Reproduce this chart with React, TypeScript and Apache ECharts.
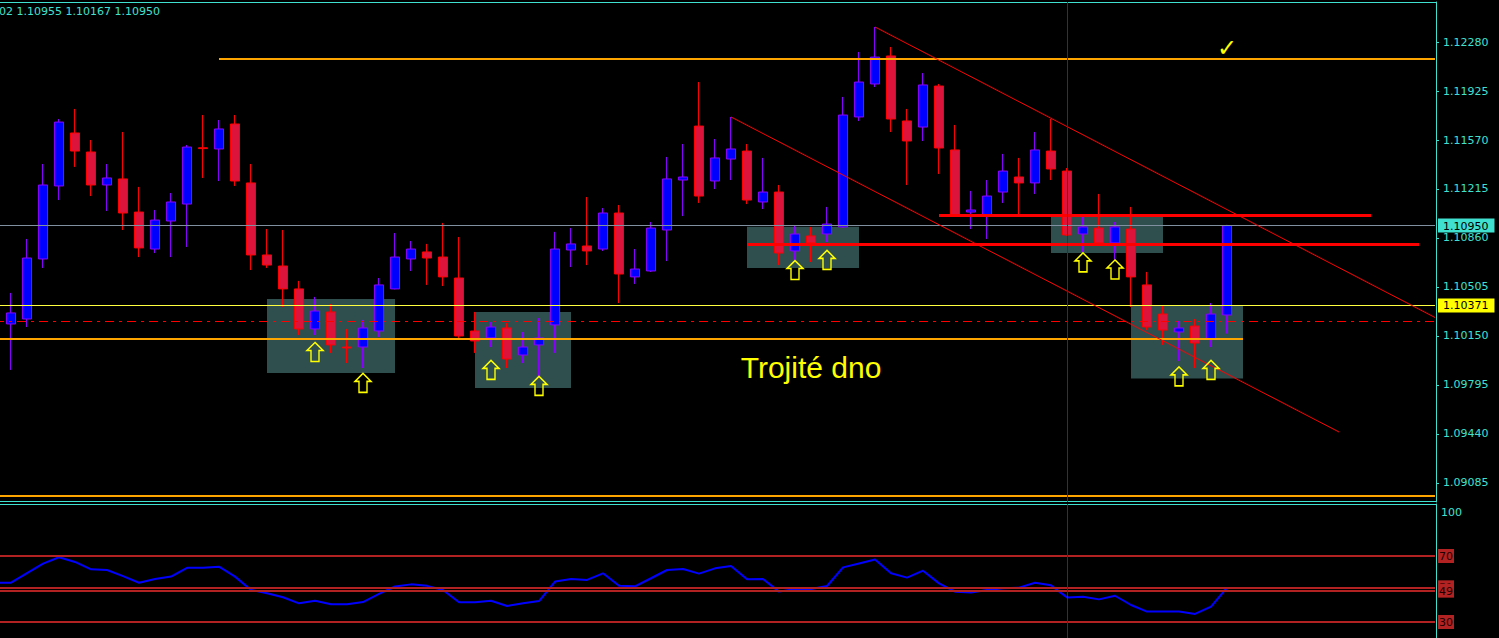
import React, { useEffect, useRef } from "react";
import * as echarts from "echarts";

// ---- candle data (index 0 is the cut-off bar at the left edge) ----
const opens = [
  1.10309, 1.10237, 1.10273, 1.10708, 1.11237, 1.11621, 1.11483, 1.11244, 1.11288, 1.11048,
  1.1078, 1.10983, 1.11106, 1.11514, 1.11505, 1.11686, 1.11259, 1.10737, 1.10657, 1.10491,
  1.10201, 1.10324, 1.1007, 1.1007, 1.10186, 1.10491, 1.10708, 1.10759, 1.10722, 1.1057,
  1.10186, 1.10136, 1.10208, 1.10012, 1.10085, 1.1023, 1.10773, 1.10802, 1.1078, 1.11041,
  1.10578, 1.10621, 1.10918, 1.1128, 1.11671, 1.11273, 1.11432, 1.1149, 1.11121, 1.11193,
  1.10766, 1.10875, 1.10889, 1.1094, 1.11737, 1.11976, 1.12179, 1.11708, 1.11664, 1.11961,
  1.11498, 1.11048, 1.11027, 1.11193, 1.11302, 1.11259, 1.1149, 1.11345, 1.10889, 1.10932,
  1.10824, 1.10925, 1.1052, 1.10309, 1.10179, 1.10222, 1.10128, 1.10302,
];
const closes = [
  1.10259, 1.10317, 1.10715, 1.11244, 1.117, 1.1149, 1.11244, 1.11295, 1.11041, 1.10788,
  1.1099, 1.11121, 1.11519, 1.11508, 1.1165, 1.11273, 1.10737, 1.10664, 1.10491, 1.10201,
  1.10331, 1.10085, 1.10063, 1.10208, 1.1052, 1.10722, 1.1078, 1.10715, 1.10578, 1.1015,
  1.10114, 1.10215, 1.09983, 1.1007, 1.10136, 1.1078, 1.10817, 1.10766, 1.11041, 1.10599,
  1.10635, 1.10932, 1.11288, 1.11302, 1.11164, 1.1144, 1.11505, 1.11135, 1.11193, 1.10751,
  1.10889, 1.10824, 1.10961, 1.11751, 1.1199, 1.12171, 1.11722, 1.11563, 1.11969, 1.11512,
  1.11027, 1.11063, 1.11164, 1.11345, 1.11259, 1.11498, 1.1136, 1.10882, 1.1094, 1.10824,
  1.1094, 1.10578, 1.10215, 1.10193, 1.10208, 1.10099, 1.10309, 1.1095,
];
const lows = [
  1.1023, 1.09904, 1.10215, 1.10643, 1.11135, 1.11375, 1.11164, 1.11056, 1.10918, 1.10722,
  1.10751, 1.10722, 1.10795, 1.11295, 1.11273, 1.11237, 1.10628, 1.10643, 1.1036, 1.10157,
  1.10157, 1.10027, 1.09954, 1.09918, 1.10143, 1.10488, 1.10621, 1.1052, 1.10512, 1.10136,
  1.10027, 1.1007, 1.09918, 1.09954, 1.09853, 1.10027, 1.1065, 1.10664, 1.10766, 1.10389,
  1.10527, 1.10614, 1.10693, 1.11019, 1.11114, 1.11215, 1.1128, 1.11106, 1.1107, 1.10664,
  1.10686, 1.10686, 1.10831, 1.10935, 1.11708, 1.11954, 1.11628, 1.11244, 1.11563, 1.11324,
  1.1102, 1.10925, 1.10853, 1.11114, 1.11027, 1.11179, 1.1128, 1.10875, 1.10759, 1.10817,
  1.10701, 1.1036, 1.10193, 1.10085, 1.09969, 1.09918, 1.1007, 1.10167,
];
const highs = [
  1.1033, 1.10462, 1.10853, 1.11396, 1.11722, 1.11795, 1.1157, 1.11396, 1.11628, 1.1123,
  1.11063, 1.11186, 1.11534, 1.11751, 1.11715, 1.11751, 1.11396, 1.10925, 1.10918, 1.10549,
  1.10433, 1.10382, 1.10201, 1.10266, 1.1057, 1.10896, 1.10838, 1.10817, 1.10969, 1.10867,
  1.10324, 1.10251, 1.10244, 1.10179, 1.1028, 1.10904, 1.10932, 1.11157, 1.11077, 1.11099,
  1.1078, 1.10976, 1.11447, 1.11541, 1.1199, 1.11577, 1.11737, 1.11541, 1.1144, 1.11244,
  1.10954, 1.1094, 1.11085, 1.11882, 1.12208, 1.12389, 1.12244, 1.11795, 1.12055, 1.11976,
  1.11679, 1.11201, 1.1128, 1.11469, 1.1144, 1.11628, 1.11722, 1.11367, 1.11012, 1.11179,
  1.10976, 1.11085, 1.10614, 1.10367, 1.10259, 1.10273, 1.10389, 1.10955,
];

// ---- oscillator (lower pane) ----
const rsiValues = [
  53.8, 53.8, 59.6, 65.4, 69.2, 66.4, 61.9, 61.5, 57.8, 53.8,
  56.1, 57.5, 62.8, 62.9, 63.5, 57.5, 49.4, 47.4, 45.0, 41.3,
  42.9, 40.7, 40.7, 42.1, 47.0, 51.5, 52.8, 51.9, 49.4, 42.0,
  42.0, 42.9, 39.7, 41.3, 42.7, 54.5, 56.1, 55.5, 59.5, 52.0,
  51.6, 56.5, 61.5, 62.1, 59.3, 62.5, 63.9, 55.9, 56.1, 48.4,
  50.0, 50.0, 51.8, 63.1, 65.5, 67.9, 59.5, 56.9, 61.1, 53.4,
  48.4, 47.8, 49.4, 50.4, 50.8, 53.8, 52.2, 44.9, 45.3, 43.7,
  45.9, 40.3, 36.3, 36.3, 36.3, 34.9, 39.3, 50.8,
];
const rsiLevels = [70, 51, 49, 30];
const rsiTopLabel = 100;

// ---- axis ticks ----
const priceTicks = [1.09085, 1.0944, 1.09795, 1.1015, 1.10505, 1.1086, 1.11215, 1.1157, 1.11925, 1.1228];
const bidPrice = 1.1095;
const askPrice = 1.10371;
const headerText = "02 1.10955 1.10167 1.10950";

// ---- drawn objects: [price, fromBar, toBar] ----
const orangeLevels = [
  [1.12157, 14, 90],
  [1.10128, 0, 78],
  [1.08993, 0, 90],
];
const redLevels = [
  [1.11027, 59, 86],
  [1.10817, 47, 89],
];
const dashDotLevel = 1.10257;
const channelUpper = [[55, 1.12389], [90, 1.10284]];
const channelLower = [[46, 1.11737], [84, 1.09454]];
// [fromBar, toBar, top, bottom]
const boxes = [
  [17, 25, 1.10418, 1.09882],
  [30, 36, 1.10324, 1.09773],
  [47, 54, 1.10942, 1.10643],
  [66, 73, 1.11014, 1.10751],
  [71, 78, 1.10371, 1.09841],
];
const arrowPoints = [
  [20, 1.10034], [23, 1.0981], [31, 1.09904], [34, 1.09788], [50, 1.10628],
  [52, 1.10701], [68, 1.10683], [70, 1.10632], [74, 1.09857], [76, 1.09904],
];
const separatorBar = 67;
const titleNote = { bar: 51, price: 1.09918, text: "Trojité dno" };
const checkNote = { bar: 77, price: 1.12237, text: "✓" };

const BAR_COUNT = 91;
const categories = Array.from({ length: BAR_COUNT }, (_, i) => "b" + i);

const CYAN = "#40e0d0";
const FONT = "DejaVu Sans";
const SEPARATOR_COLOR = "#262696";

function buildOption() {
  const candleData = opens.map((o, i) => [o, closes[i], lows[i], highs[i]]);
  const lastCat = categories[BAR_COUNT - 1];

  const mainLines: any[] = [];
  orangeLevels.forEach(([p, a, b]) =>
    mainLines.push([
      { coord: [categories[a], p], lineStyle: { color: "#ffa500", width: 2, type: "solid" } },
      { coord: [categories[b], p] },
    ])
  );
  redLevels.forEach(([p, a, b]) =>
    mainLines.push([
      { coord: [categories[a], p], lineStyle: { color: "#ff0000", width: 3, type: "solid" } },
      { coord: [categories[b], p] },
    ])
  );
  mainLines.push([
    { coord: [categories[0], bidPrice], lineStyle: { color: "#8090a0", width: 1, type: "solid" } },
    { coord: [lastCat, bidPrice] },
  ]);
  mainLines.push([
    { coord: [categories[0], askPrice], lineStyle: { color: "#ffff40", width: 1, type: "solid" } },
    { coord: [lastCat, askPrice] },
  ]);
  mainLines.push([
    { coord: [categories[0], dashDotLevel], lineStyle: { color: "#ff0000", width: 1, type: [9, 5, 3, 5] } },
    { coord: [lastCat, dashDotLevel] },
  ]);
  [channelUpper, channelLower].forEach((c) =>
    mainLines.push([
      { coord: [categories[c[0][0]], c[0][1]], lineStyle: { color: "#ff0000", width: 1, type: "solid" } },
      { coord: [categories[c[1][0]], c[1][1]] },
    ])
  );
  mainLines.push({ xAxis: categories[separatorBar], lineStyle: { color: SEPARATOR_COLOR, width: 1, type: "solid" } });

  const rsiLines: any[] = rsiLevels.map((v) => [
    { coord: [categories[0], v], lineStyle: { color: "#b22222", width: 2, type: "solid" } },
    { coord: [lastCat, v] },
  ]);
  rsiLines.push({ xAxis: categories[separatorBar], lineStyle: { color: SEPARATOR_COLOR, width: 1, type: "solid" } });

  return {
    animation: false,
    backgroundColor: "#000000",
    grid: [
      { left: -13, top: 2, width: BAR_COUNT * 16, height: 500, outerBoundsMode: "none", containLabel: false },
      { left: -13, top: 504, width: BAR_COUNT * 16, height: 134, outerBoundsMode: "none", containLabel: false },
    ],
    xAxis: [
      { type: "category", gridIndex: 0, data: categories, boundaryGap: true, show: false },
      { type: "category", gridIndex: 1, data: categories, boundaryGap: true, show: false },
    ],
    yAxis: [
      {
        type: "value",
        gridIndex: 0,
        position: "right",
        offset: -7,
        min: 1.08947,
        max: 1.1257,
        z: 10,
        splitLine: { show: false },
        axisLine: { show: true, onZero: false, lineStyle: { color: CYAN, width: 1 } },
        axisTick: { show: true, length: 3, customValues: priceTicks, lineStyle: { color: CYAN } },
        axisLabel: {
          customValues: [...priceTicks, bidPrice, askPrice],
          margin: 2,
          formatter: (v: number) => {
            if (Math.abs(v - bidPrice) < 1e-7) return `{bid|${v.toFixed(5)}}`;
            if (Math.abs(v - askPrice) < 1e-7) return `{ask|${v.toFixed(5)}}`;
            return `{n|${v.toFixed(5)}}`;
          },
          rich: {
            n: { color: CYAN, fontFamily: FONT, fontSize: 11, padding: [0, 0, 0, 5] },
            bid: { color: "#000", backgroundColor: CYAN, fontFamily: FONT, fontSize: 11, padding: [2, 6, 1, 5] },
            ask: { color: "#000", backgroundColor: "#ffff00", fontFamily: FONT, fontSize: 11, padding: [2, 6, 1, 5] },
          },
        },
      },
      {
        type: "value",
        gridIndex: 1,
        position: "right",
        offset: -7,
        min: 20.3,
        max: 101.5,
        z: 10,
        splitLine: { show: false },
        axisLine: { show: true, onZero: false, lineStyle: { color: CYAN, width: 1 } },
        axisTick: { show: false },
        axisLabel: {
          customValues: [rsiTopLabel, ...rsiLevels],
          margin: 2,
          formatter: (v: number) => (v === rsiTopLabel ? `{t|${v}}` : `{lv|${v}}`),
          rich: {
            t: { color: CYAN, fontFamily: FONT, fontSize: 11, padding: [12, 0, 0, 3] },
            lv: { color: "#200000", backgroundColor: "#b22222", fontFamily: FONT, fontSize: 11, padding: [2, 1, 1, 1] },
          },
        },
      },
    ],
    graphic: [
      { type: "line", silent: true, shape: { x1: 0, y1: 2.5, x2: 1436, y2: 2.5 }, style: { stroke: CYAN, lineWidth: 1 } },
      { type: "line", silent: true, shape: { x1: 0, y1: 501.5, x2: 1436, y2: 501.5 }, style: { stroke: CYAN, lineWidth: 1 } },
      { type: "line", silent: true, shape: { x1: 0, y1: 504.5, x2: 1436, y2: 504.5 }, style: { stroke: CYAN, lineWidth: 1 } },
      {
        type: "text",
        silent: true,
        x: -1,
        y: 6,
        style: { text: headerText, fill: CYAN, font: `11px "${FONT}"`, verticalAlign: "top" },
      },
    ],
    series: [
      {
        type: "candlestick",
        xAxisIndex: 0,
        yAxisIndex: 0,
        silent: true,
        barWidth: 10,
        data: candleData,
        itemStyle: {
          color: "#0000ff",
          color0: "#dc143c",
          borderColor: "#8a00ff",
          borderColor0: "#ff0000",
          borderWidth: 1,
        },
        markArea: {
          silent: true,
          itemStyle: { color: "#2f4f4f" },
          data: boxes.map(([a, b, top, bottom]) => [
            { xAxis: categories[a], yAxis: top },
            { xAxis: categories[b], yAxis: bottom },
          ]),
        },
        markLine: {
          silent: true,
          symbol: ["none", "none"],
          label: { show: false },
          animation: false,
          data: mainLines,
        },
      },
      {
        type: "scatter",
        xAxisIndex: 0,
        yAxisIndex: 0,
        silent: true,
        z: 6,
        symbol: "path://M8,0 L16,8 L12,8 L12,19 L4,19 L4,8 L0,8 Z",
        symbolSize: [16, 19],
        itemStyle: { color: "rgba(0,0,0,0)", borderColor: "#ffff00", borderWidth: 1.5, opacity: 1 },
        data: arrowPoints.map(([b, p]) => [categories[b], p]),
      },
      {
        type: "scatter",
        xAxisIndex: 0,
        yAxisIndex: 0,
        silent: true,
        z: 7,
        symbolSize: 1,
        itemStyle: { color: "rgba(0,0,0,0)", opacity: 1 },
        label: {
          show: true,
          position: "inside",
          formatter: (p: any) => p.name,
          color: "#ffff00",
          opacity: 1,
          textBorderWidth: 0,
        },
        data: [
          {
            name: titleNote.text,
            value: [categories[titleNote.bar], titleNote.price],
            label: { fontFamily: "Liberation Sans", fontSize: 30 },
          },
          {
            name: checkNote.text,
            value: [categories[checkNote.bar], checkNote.price],
            label: { fontFamily: FONT, fontSize: 24 },
          },
        ],
      },
      {
        type: "line",
        xAxisIndex: 1,
        yAxisIndex: 1,
        silent: true,
        showSymbol: false,
        symbol: "none",
        data: rsiValues,
        lineStyle: { color: "#0000ff", width: 2 },
        markLine: {
          silent: true,
          symbol: ["none", "none"],
          label: { show: false },
          animation: false,
          data: rsiLines,
        },
      },
    ],
  };
}

export default function App() {
  const ref = useRef<HTMLDivElement>(null);
  useEffect(() => {
    if (!ref.current) return;
    const chart = echarts.init(ref.current, null, { renderer: "svg" });
    chart.setOption(buildOption() as any);
    return () => chart.dispose();
  }, []);
  return (
    <div
      ref={ref}
      style={{ position: "fixed", left: 0, top: 0, width: 1499, height: 638, background: "#000" }}
    />
  );
}
